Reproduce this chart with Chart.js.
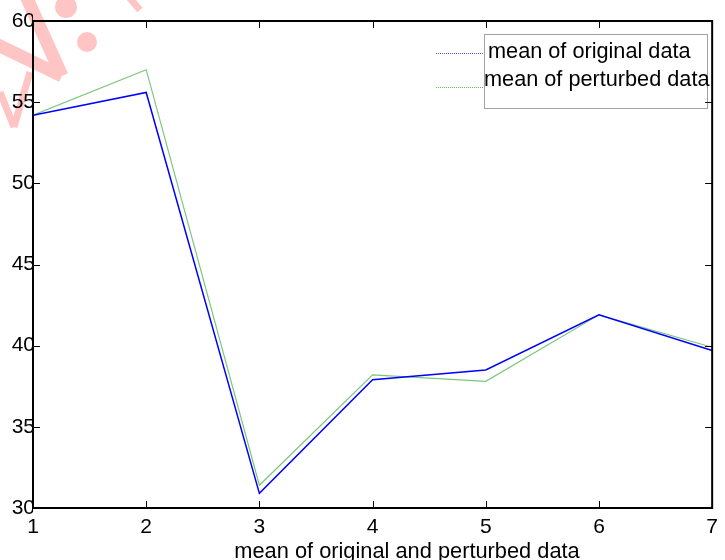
<!DOCTYPE html>
<html>
<head>
<meta charset="utf-8">
<title>mean of original and perturbed data</title>
<script src="https://cdn.jsdelivr.net/npm/chart.js@4.4.1/dist/chart.umd.min.js"></script>
<style>
    html, body { margin: 0; padding: 0; background: #fff; }
    #wrap { width: 725px; height: 560px; position: relative; }
</style>
</head>
<body>
<div id="wrap"><canvas id="meanChart"></canvas></div>
<script>
// --- Data ---
const xValues = [1, 2, 3, 4, 5, 6, 7];
const originalMeans = [54.2, 55.6, 30.9, 37.9, 38.5, 41.9, 39.7];
const perturbedMeans = [54.2, 57.0, 31.4, 38.2, 37.8, 41.9, 39.9];
const seriesNames = ['mean of original data', 'mean of perturbed data'];
const xTitle = 'mean of original and perturbed data';

const FONT = 'Liberation Sans, Arial, Helvetica, sans-serif';
const FONT_SIZE = 21;

function toPoints(values) {
    return xValues.map((x, i) => ({ x: x, y: values[i] }));
}

// pink blob in the top-left corner (looks like a stamp cut off by the crop)
const stampPlugin = {
    id: 'stamp',
    beforeDraw(chart) {
        const ctx = chart.ctx;
        ctx.save();
        ctx.fillStyle = '#ffc4c4';
        ctx.strokeStyle = '#ffc4c4';
        ctx.lineCap = 'butt';
        ctx.lineWidth = 13;
        ctx.beginPath();
        ctx.moveTo(26, -4); ctx.lineTo(62, 76);
        ctx.moveTo(-4, 44); ctx.lineTo(62, 76);
        ctx.stroke();
        ctx.lineWidth = 7;
        ctx.beginPath();
        ctx.moveTo(0, 92); ctx.lineTo(14, 127);
        ctx.moveTo(14, 127); ctx.lineTo(30, 72);
        ctx.moveTo(128, -4); ctx.lineTo(140, 10);
        ctx.stroke();
        ctx.beginPath();
        ctx.arc(66, 7, 11, 0, Math.PI * 2);
        ctx.arc(87, 42, 10, 0, Math.PI * 2);
        ctx.fill();
        ctx.restore();
    }
};

// matlab style box with the ticks pointing inwards
const boxPlugin = {
    id: 'box',
    afterDatasetsDraw(chart) {
        const { ctx, chartArea: a, scales } = chart;
        const len = 7;
        ctx.save();
        ctx.strokeStyle = '#000';
        ctx.lineWidth = 1;
        ctx.beginPath();
        scales.x.ticks.forEach(t => {
            const px = Math.round(scales.x.getPixelForValue(t.value)) + 0.5;
            ctx.moveTo(px, a.bottom); ctx.lineTo(px, a.bottom - len);
            ctx.moveTo(px, a.top); ctx.lineTo(px, a.top + len);
        });
        scales.y.ticks.forEach(t => {
            const py = Math.round(scales.y.getPixelForValue(t.value)) + 0.5;
            ctx.moveTo(a.left, py); ctx.lineTo(a.left + len, py);
            ctx.moveTo(a.right, py); ctx.lineTo(a.right - len, py);
        });
        ctx.stroke();
        ctx.lineWidth = 2;
        ctx.strokeRect(a.left, a.top, a.right - a.left, a.bottom - a.top);

        // x title sits a bit right of centre in the original
        ctx.fillStyle = '#000';
        ctx.font = '21.8px ' + FONT;
        ctx.textAlign = 'center';
        ctx.textBaseline = 'alphabetic';
        ctx.fillText(xTitle, 407, 558);
        ctx.restore();
    }
};

// legend box, the line samples sit outside the box like in the original
const sampleColors = ['#5a5aff', '#5cc05c'];
const legendPlugin = {
    id: 'oddLegend',
    afterDraw(chart) {
        const ctx = chart.ctx;
        const box = { x: 484.5, y: 34.5, w: 223, h: 74 };
        const rows = [52, 80];
        const sampleY = [53.5, 87.5];
        ctx.save();
        ctx.setLineDash([1, 1]);
        ctx.strokeStyle = '#444';
        ctx.lineWidth = 1;
        ctx.strokeRect(box.x, box.y, box.w, box.h);
        chart.data.datasets.forEach((ds, i) => {
            ctx.strokeStyle = sampleColors[i];
            ctx.beginPath();
            ctx.moveTo(436, sampleY[i]);
            ctx.lineTo(484, sampleY[i]);
            ctx.stroke();
        });
        ctx.setLineDash([]);
        ctx.fillStyle = '#000';
        ctx.font = '21.7px ' + FONT;
        ctx.textBaseline = 'middle';
        ctx.textAlign = 'left';
        ctx.fillText(chart.data.datasets[0].label, 488, rows[0]);
        ctx.fillText(chart.data.datasets[1].label, 484, rows[1]);
        ctx.restore();
    }
};

const chart = new Chart(document.getElementById('meanChart'), {
    type: 'line',
    data: {
        datasets: [
            {
                label: seriesNames[0],
                data: toPoints(originalMeans),
                borderColor: '#0000ff',
                borderWidth: 1.5,
                pointRadius: 0,
                tension: 0,
                fill: false
            },
            {
                label: seriesNames[1],
                data: toPoints(perturbedMeans),
                borderColor: '#7cc77c',
                borderWidth: 1.2,
                pointRadius: 0,
                tension: 0,
                fill: false
            }
        ]
    },
    options: {
        responsive: true,
        maintainAspectRatio: false,
        animation: false,
        events: [],
        layout: { padding: { top: 21, right: 11, left: 0, bottom: 0 } },
        plugins: {
            legend: { display: false },
            tooltip: { enabled: false }
        },
        scales: {
            x: {
                type: 'linear',
                min: 1,
                max: 7,
                grid: { display: false, drawTicks: false },
                border: { display: false },
                ticks: {
                    stepSize: 1,
                    autoSkip: false,
                    maxRotation: 0,
                    padding: 7,
                    color: '#000',
                    font: { family: FONT, size: FONT_SIZE }
                },
                title: { display: false },
                afterFit(scale) { scale.height = 52; }
            },
            y: {
                min: 30,
                max: 60,
                grid: { display: false, drawTicks: false },
                border: { display: false },
                ticks: {
                    stepSize: 5,
                    padding: -2,
                    color: '#000',
                    font: { family: FONT, size: FONT_SIZE }
                },
                afterFit(scale) { scale.width = 33; }
            }
        }
    },
    plugins: [stampPlugin, boxPlugin, legendPlugin]
});
</script>
</body>
</html>
